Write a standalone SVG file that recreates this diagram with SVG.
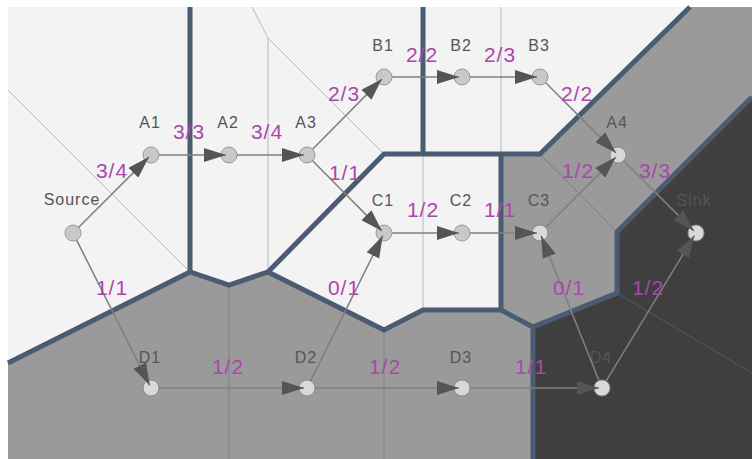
<svg xmlns="http://www.w3.org/2000/svg" width="752" height="459" viewBox="0 0 752 459">
<defs>
<marker id="arr" markerUnits="userSpaceOnUse" markerWidth="24" markerHeight="14" refX="22" refY="7" orient="auto">
<path d="M0,0 L22,7 L0,14 z" fill="#555"/>
</marker>
<style>
.bnd{fill:none;stroke:#4a5d70;stroke-width:5;stroke-linejoin:miter}
.thinL{fill:none;stroke:#b4bac2;stroke-width:1}
.thinG{fill:none;stroke:#7b8088;stroke-width:1}
.thinD{fill:none;stroke:#4a5d70;stroke-width:1}
.e{fill:none;stroke:#808080;stroke-width:1.5;marker-end:url(#arr)}
.n{fill:#c9c9c9;stroke:#9a9a9a;stroke-width:1}
.nl{fill:#d9d9d9;stroke:#8a8a8a;stroke-width:1}
.lbl{font-family:"Liberation Sans",Arial,sans-serif;font-size:16px;fill:#555;text-anchor:middle;letter-spacing:1px}
.el{font-family:"Liberation Sans",Arial,sans-serif;font-size:21px;fill:#ab47ab;text-anchor:middle;letter-spacing:1px}
</style>
</defs>
<rect x="0" y="0" width="752" height="459" fill="#ffffff"/>
<rect x="8" y="7" width="744" height="452" fill="#f3f3f3"/>
<polygon points="8,363 190,272 229,285 268,272 384,330 423,310 501,310 533,327 533,459 8,459" fill="#9a9a9a"/>
<polygon points="501,154 540,154 690,7 752,7 752,97 617,232 617,293 533,327 501,310" fill="#9a9a9a"/>
<polygon points="533,327 617,293 617,232 752,97 752,459 533,459" fill="#3f3f3f"/>
<g id="thin">
<path class="thinL" d="M8,90 L190,272"/>
<path class="thinL" d="M252,7 L268,38 L268,272"/>
<path class="thinL" d="M268,38 L384,154"/>
<path class="thinL" d="M501,7 L501,154"/>
<path class="thinL" d="M423,154 L423,310"/>
<path class="thinG" d="M540,154 L617,232"/>
<path class="thinG" d="M229,285 L229,459"/>
<path class="thinG" d="M384,330 L384,459"/>
<path class="thinD" d="M617,293 L752,373"/>
</g>
<g id="boundaries">
<path class="bnd" d="M190,7 L190,272"/>
<path class="bnd" d="M8,363 L190,272 L229,285 L268,272 L384,330 L423,310 L501,310 L533,327"/>
<path class="bnd" d="M268,272 L384,154 L540,154 L690,7"/>
<path class="bnd" d="M423,7 L423,154"/>
<path class="bnd" d="M501,154 L501,310"/>
<path class="bnd" d="M533,459 L533,327 L617,293 L617,232 L752,97"/>
</g>
<g id="Source"><circle class="n" cx="73" cy="233" r="8"/><text class="lbl" x="72" y="205">Source</text></g>
<g id="A1"><circle class="n" cx="151" cy="155" r="8"/><text class="lbl" x="150" y="128">A1</text></g>
<g id="A2"><circle class="n" cx="229" cy="155" r="8"/><text class="lbl" x="228" y="128">A2</text></g>
<g id="A3"><circle class="n" cx="307" cy="155" r="8"/><text class="lbl" x="306" y="128">A3</text></g>
<g id="B1"><circle class="n" cx="384" cy="77" r="8"/><text class="lbl" x="383" y="51">B1</text></g>
<g id="B2"><circle class="n" cx="462" cy="77" r="8"/><text class="lbl" x="461" y="51">B2</text></g>
<g id="B3"><circle class="n" cx="540" cy="77" r="8"/><text class="lbl" x="539" y="51">B3</text></g>
<g id="A4"><circle class="nl" cx="618" cy="155" r="8"/><text class="lbl" x="617" y="128">A4</text></g>
<g id="C1"><circle class="n" cx="384" cy="233" r="8"/><text class="lbl" x="383" y="206">C1</text></g>
<g id="C2"><circle class="n" cx="462" cy="233" r="8"/><text class="lbl" x="461" y="206">C2</text></g>
<g id="C3"><circle class="nl" cx="540" cy="233" r="8"/><text class="lbl" x="539" y="206">C3</text></g>
<g id="Sink"><circle class="nl" cx="696" cy="233" r="8"/><text class="lbl" x="694" y="206">Sink</text></g>
<g id="D1"><circle class="nl" cx="151" cy="388" r="8"/><text class="lbl" x="150" y="363">D1</text></g>
<g id="D2"><circle class="nl" cx="307" cy="388" r="8"/><text class="lbl" x="306" y="363">D2</text></g>
<g id="D3"><circle class="nl" cx="462" cy="388" r="8"/><text class="lbl" x="461" y="363">D3</text></g>
<g id="D4"><circle class="nl" cx="602" cy="388" r="8"/><text class="lbl" x="601" y="363">D4</text></g>
<g id="connectors">
<path class="e" d="M78.7,227.3 L148.9,157.1"/>
<path class="e" d="M159,155 L226,155"/>
<path class="e" d="M237,155 L304,155"/>
<path class="e" d="M312.6,149.3 L381.9,79.1"/>
<path class="e" d="M312.6,160.7 L381.9,230.9"/>
<path class="e" d="M392,77 L459,77"/>
<path class="e" d="M470,77 L537,77"/>
<path class="e" d="M545.7,82.7 L615.9,152.9"/>
<path class="e" d="M392,233 L459,233"/>
<path class="e" d="M470,233 L537,233"/>
<path class="e" d="M545.7,227.3 L615.9,157.1"/>
<path class="e" d="M623.7,160.7 L693.9,230.9"/>
<path class="e" d="M76.6,240.1 L149.7,385.3"/>
<path class="e" d="M159,388 L304,388"/>
<path class="e" d="M310.6,380.8 L382.7,235.7"/>
<path class="e" d="M315,388 L459,388"/>
<path class="e" d="M470,388 L599,388"/>
<path class="e" d="M599,380.6 L541.1,235.8"/>
<path class="e" d="M606.1,381.2 L694.4,235.6"/>
<text class="el" x="112" y="178">3/4</text>
<text class="el" x="189" y="139">3/3</text>
<text class="el" x="267" y="139">3/4</text>
<text class="el" x="344" y="101">2/3</text>
<text class="el" x="345" y="180">1/1</text>
<text class="el" x="422" y="62">2/2</text>
<text class="el" x="500" y="62">2/3</text>
<text class="el" x="577" y="101">2/2</text>
<text class="el" x="578" y="178">1/2</text>
<text class="el" x="655" y="178">3/3</text>
<text class="el" x="423" y="217">1/2</text>
<text class="el" x="500" y="217">1/1</text>
<text class="el" x="112" y="295">1/1</text>
<text class="el" x="228" y="374">1/2</text>
<text class="el" x="344" y="295">0/1</text>
<text class="el" x="385" y="374">1/2</text>
<text class="el" x="531" y="374">1/1</text>
<text class="el" x="569" y="295">0/1</text>
<text class="el" x="648" y="295">1/2</text>
</g>
</svg>
